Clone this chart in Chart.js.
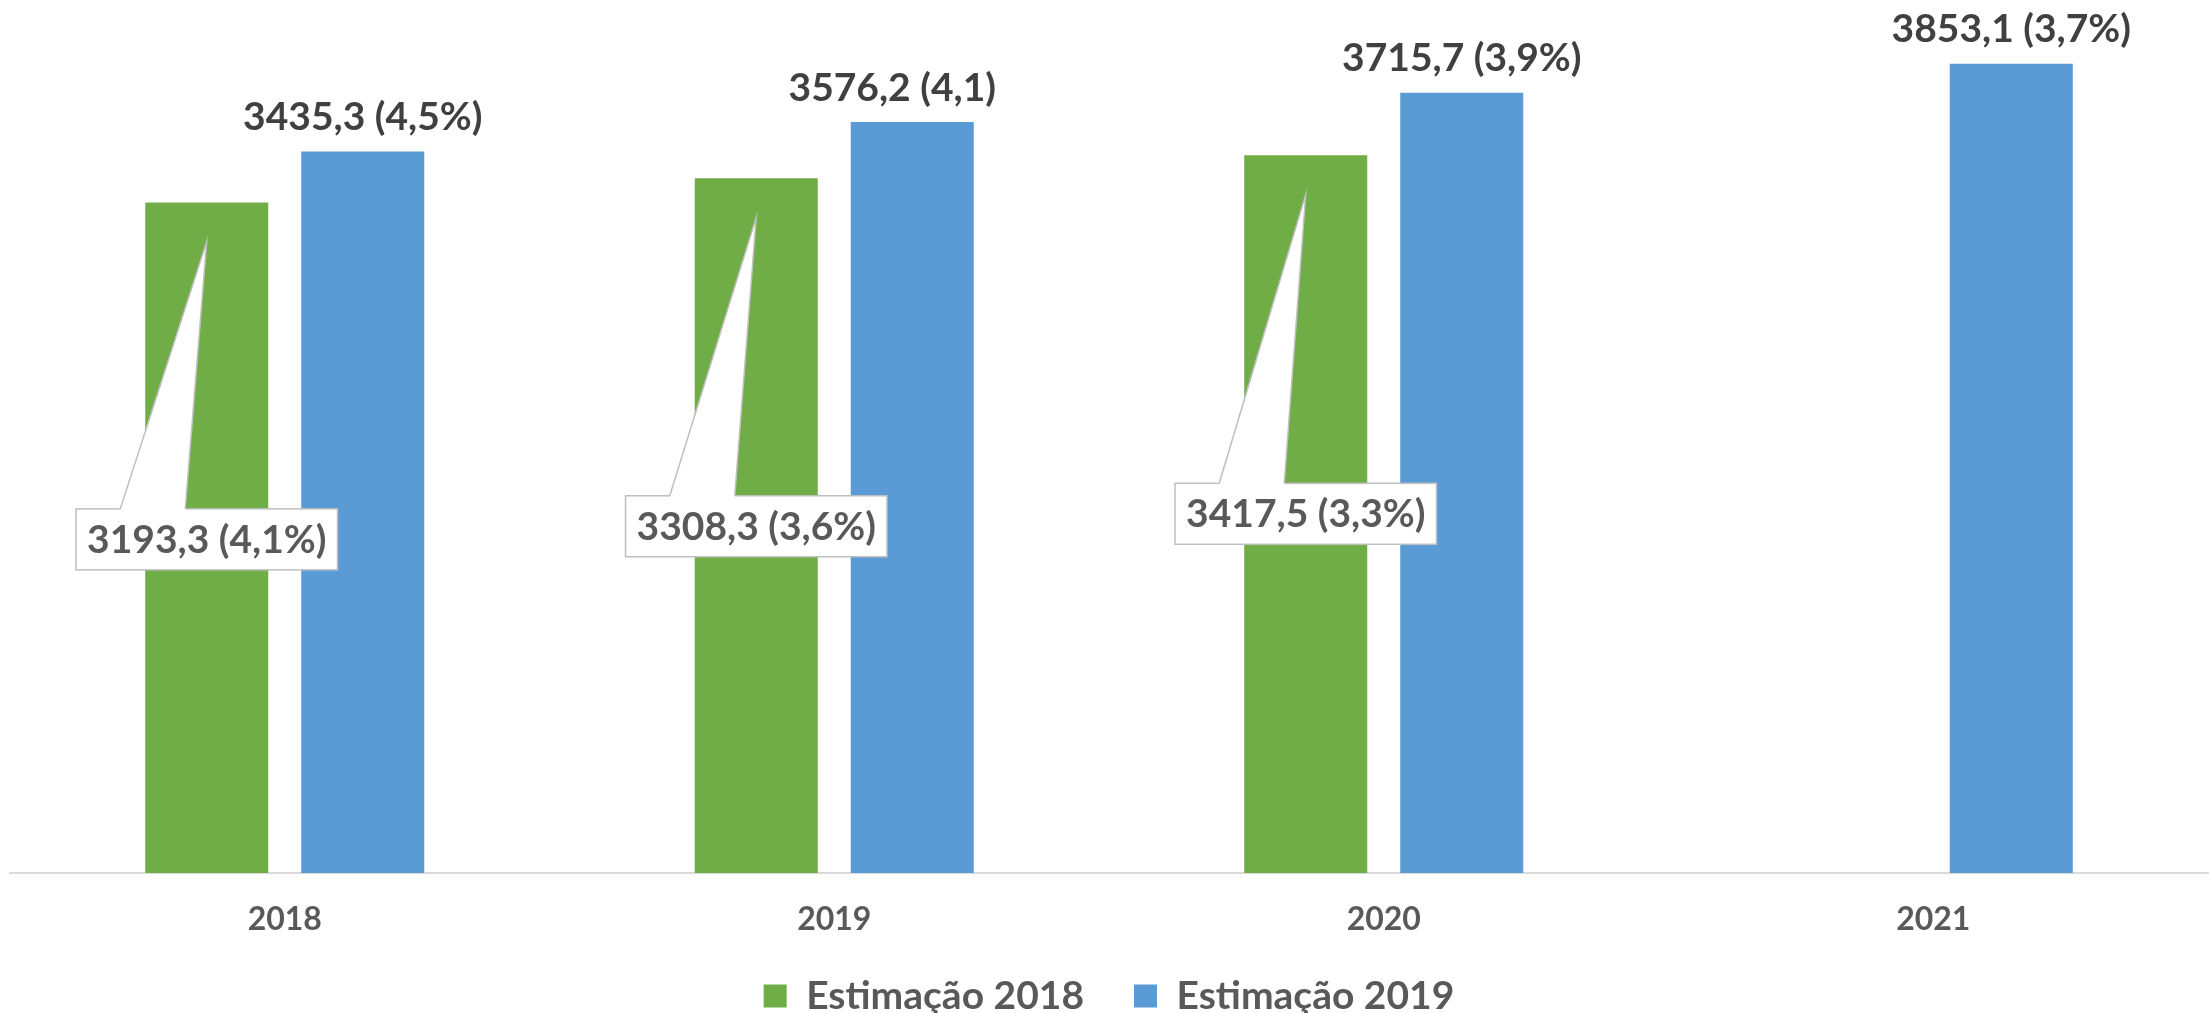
<!DOCTYPE html>
<html><head><meta charset="utf-8">
<script src="https://cdn.jsdelivr.net/npm/chart.js@4.4.1/dist/chart.umd.min.js"></script>
<style>html,body{margin:0;padding:0;background:#fff;} #wrap{width:2209px;height:1013px;position:relative;}</style>
</head><body><div id="wrap"><canvas id="c"></canvas></div>
<script>
const categories = ['2018', '2019', '2020', '2021'];
const est2018 = [3193.3, 3308.3, 3417.5, null];
const est2019 = [3435.3, 3576.2, 3715.7, 3853.1];
const growth2018 = ['4,1%', '3,6%', '3,3%', null];
const growth2019 = ['4,5%', '4,1', '3,9%', '3,7%'];
const seriesNames = ['Estimação 2018', 'Estimação 2019'];

// styling (not data)
const topLabelShift = [0, -20, 0, 0];
const FONT = 'Lato';
const LABEL_SIZE = 39;
const X_AXIS_HEIGHT = 53.5;
const LEGEND_HEIGHT = 1013 - 873 - X_AXIS_HEIGHT;

const fmt = (v, g) => v.toFixed(1).replace('.', ',') + ' (' + g + ')';

const layoutPlugin = {
  id: 'fixLayout',
  beforeLayout(chart) {
    const lg = chart.legend;
    if (lg && !lg._fixedFit) {
      const orig = lg.fit.bind(lg);
      lg.fit = function () { orig(); this.height = LEGEND_HEIGHT; };
      lg._fixedFit = true;
    }
  },
  beforeDraw(chart) {
    const xs = chart.scales.x;
    if (xs) xs._computeLabelArea = function () { return undefined; };
  }
};

const labelPlugin = {
  id: 'valueLabels',
  afterDatasetsDraw(chart) {
    const ctx = chart.ctx;
    const yScale = chart.scales.y;
    ctx.save();
    ctx.font = 'bold ' + LABEL_SIZE + 'px ' + FONT;
    ctx.textAlign = 'center';
    ctx.textBaseline = 'middle';
    // top labels for Estimação 2019
    const m1 = chart.getDatasetMeta(1);
    ctx.fillStyle = '#404040';
    m1.data.forEach((bar, i) => {
      if (est2019[i] == null) return;
      ctx.fillText(fmt(est2019[i], growth2019[i]), bar.x + topLabelShift[i], bar.y - 34);
    });
    // callouts for Estimação 2018
    const m0 = chart.getDatasetMeta(0);
    m0.data.forEach((bar, i) => {
      const v = est2018[i];
      if (v == null) return;
      const text = fmt(v, growth2018[i]);
      const tw = ctx.measureText(text).width;
      const bw = tw + 22, bh = 61;
      const cx = bar.x;
      const top = yScale.getPixelForValue(v * 0.543);
      const left = cx - bw / 2;
      const tipY = bar.y + 39;
      ctx.fillStyle = '#ffffff';
      ctx.strokeStyle = '#bfbfbf';
      ctx.lineWidth = 1.5;
      ctx.fillRect(left, top, bw, bh);
      ctx.strokeRect(left, top, bw, bh);
      const b1 = cx - 86.5, b2 = cx - 21.5;
      ctx.beginPath();
      ctx.moveTo(b1, top + 2); ctx.lineTo(cx, tipY); ctx.lineTo(b2, top + 2); ctx.closePath();
      ctx.fill();
      ctx.beginPath();
      ctx.moveTo(b1, top); ctx.lineTo(cx, tipY); ctx.lineTo(b2, top);
      ctx.stroke();
      ctx.fillStyle = '#595959';
      ctx.fillText(text, cx, top + bh / 2 + 1);
    });
    ctx.restore();
  }
};

function build() {
  new Chart(document.getElementById('c'), {
    type: 'bar',
    data: {
      labels: categories,
      datasets: [
        { label: seriesNames[0], data: est2018, backgroundColor: '#70AD47', categoryPercentage: 0.5678, barPercentage: 0.7885 },
        { label: seriesNames[1], data: est2019, backgroundColor: '#5B9BD5', categoryPercentage: 0.5678, barPercentage: 0.7885 }
      ]
    },
    options: {
      responsive: true,
      maintainAspectRatio: false,
      animation: false,
      layout: { padding: { top: 33, left: 10, right: 1, bottom: 0 } },
      plugins: {
        legend: {
          position: 'bottom',
          labels: {
            boxWidth: 23, boxHeight: 23, padding: 50, color: '#595959',
            font: { family: FONT, weight: 'bold', size: 39 }
          }
        },
        tooltip: { enabled: false }
      },
      scales: {
        x: {
          grid: { display: false, drawTicks: false },
          border: { display: true, color: '#d9d9d9', width: 2 },
          ticks: { color: '#595959', font: { family: FONT, weight: 'bold', size: 32 }, padding: 27 },
          afterFit(scale) { scale.height = X_AXIS_HEIGHT; }
        },
        y: { display: false, min: 0, max: 4000 }
      }
    },
    plugins: [layoutPlugin, labelPlugin]
  });
}
if (document.fonts && document.fonts.load) {
  Promise.all([document.fonts.load('bold 39px Lato'), document.fonts.load('bold 32px Lato')]).then(build, build);
} else { build(); }
</script>
</body></html>
